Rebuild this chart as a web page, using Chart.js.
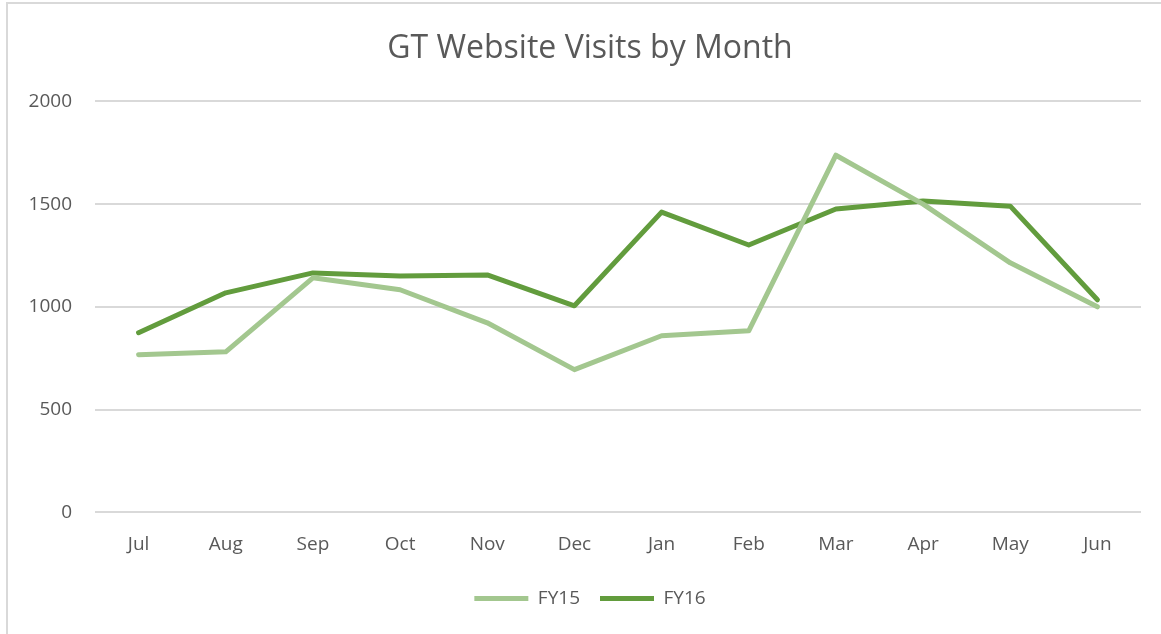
<!DOCTYPE html>
<html>
<head>
<meta charset="utf-8">
<script src="https://cdn.jsdelivr.net/npm/chart.js@4.4.0/dist/chart.umd.min.js"></script>
<style>
  html, body { margin: 0; padding: 0; background: #fff; overflow: hidden; }
  #frame { position: absolute; left: 6px; top: 2px; width: 1170px; height: 650px; border: 2px solid #d9d9d9; box-sizing: border-box; }
  #wrap { position: absolute; left: 0; top: 0; width: 1161px; height: 634px; }
</style>
</head>
<body>
<div id="frame"></div>
<div id="wrap"><canvas id="visits" width="1161" height="634"></canvas></div>
<script>
  const months = ["Jul", "Aug", "Sep", "Oct", "Nov", "Dec", "Jan", "Feb", "Mar", "Apr", "May", "Jun"];
  const fy15 = [767, 781, 1141, 1083, 922, 694, 859, 883, 1738, 1500, 1214, 1000];
  const fy16 = [874, 1068, 1165, 1150, 1155, 1005, 1461, 1301, 1476, 1515, 1490, 1034];
  const yTicks = [0, 500, 1000, 1500, 2000];

  const font = "'Open Sans', sans-serif";
  const ctx = document.getElementById("visits").getContext("2d");

  // let the y labels spill left of the axis box so title/legend stay centred like the original
  const unclipY = {
    id: "unclipY",
    afterLayout: (chart) => { chart.scales.y.left = 0; }
  };

  new Chart(ctx, {
    type: "line",
    data: {
      labels: months,
      datasets: [{
        label: "FY15",
        data: fy15,
        borderColor: "#a3c78f",
        backgroundColor: "#a3c78f",
        borderWidth: 5,
        borderCapStyle: "round",
        borderJoinStyle: "round",
        pointRadius: 0,
        tension: 0
      }, {
        label: "FY16",
        data: fy16,
        borderColor: "#629c3d",
        backgroundColor: "#629c3d",
        borderWidth: 5,
        borderCapStyle: "round",
        borderJoinStyle: "round",
        pointRadius: 0,
        tension: 0
      }]
    },
    options: {
      responsive: false,
      animation: false,
      layout: { padding: { left: 39, right: 20, top: 30, bottom: 16 } },
      plugins: {
        title: {
          display: true,
          text: "GT Website Visits by Month",
          color: "#595959",
          font: { family: font, size: 32, weight: "normal" },
          padding: { top: 0, bottom: 33 }
        },
        legend: {
          display: true,
          position: "bottom",
          labels: {
            usePointStyle: true,
            pointStyle: "line",
            pointStyleWidth: 54,
            boxHeight: 5,
            padding: 20,
            color: "#595959",
            font: { family: font, size: 19 }
          }
        },
        tooltip: { enabled: false }
      },
      scales: {
        x: {
          offset: true,
          grid: { display: false },
          border: { display: false },
          ticks: { color: "#595959", font: { family: font, size: 19 }, padding: 13 }
        },
        y: {
          min: 0,
          max: 2000,
          afterBuildTicks: (axis) => { axis.ticks = yTicks.map(v => ({ value: v })); },
          afterFit: (axis) => { axis.width = 56; },
          grid: { color: "#d9d9d9", lineWidth: 2, drawTicks: false },
          border: { display: false },
          ticks: { color: "#595959", font: { family: font, size: 19 }, padding: 23, callback: (v) => String(v) }
        }
      }
    },
    plugins: [unclipY]
  });
</script>
</body>
</html>
